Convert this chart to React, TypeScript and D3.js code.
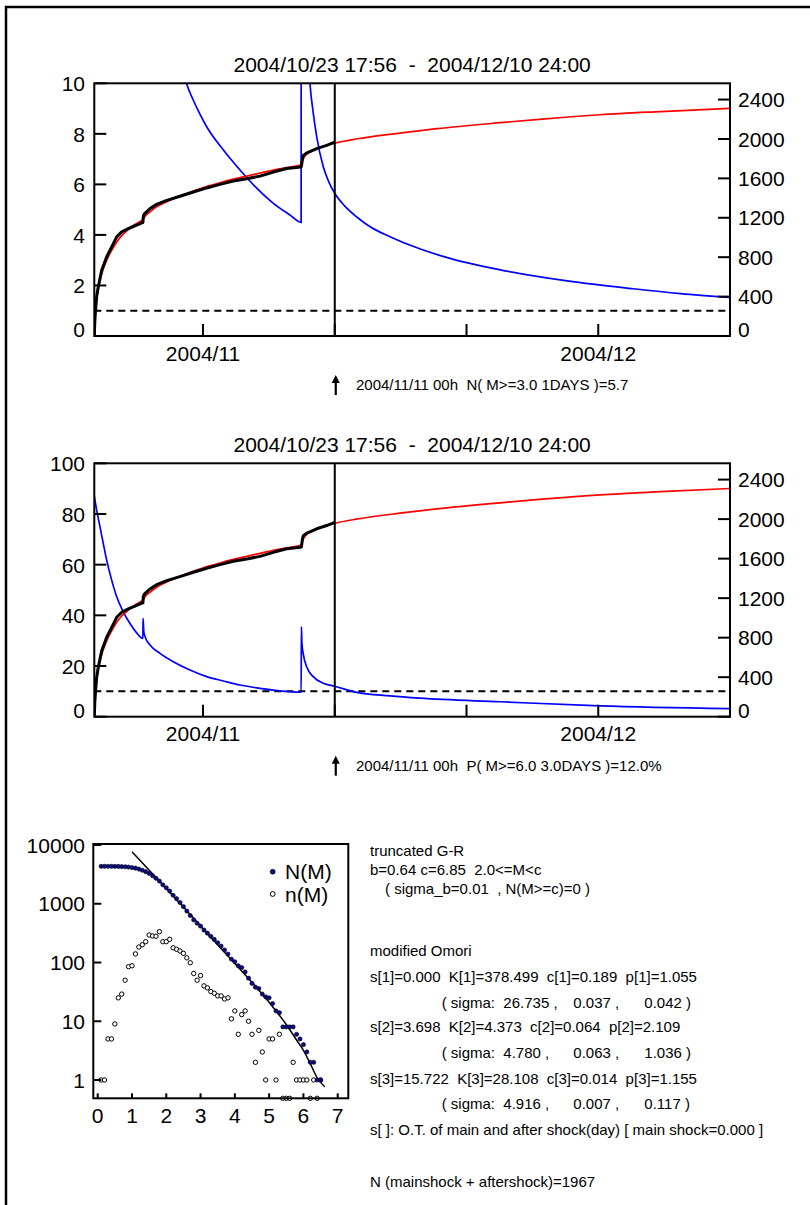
import React from 'react';
import * as d3 from 'd3';

// ---------- time axis ----------
const START = Date.UTC(2004, 9, 23, 17, 56);
const END = Date.UTC(2004, 11, 11, 0, 0);
const DAY = 86400000;
const xTickDates = ['2004-11-01', '2004-11-11', '2004-11-21', '2004-12-01'];
const xLabelDates = ['2004-11-01', '2004-12-01'];
const forecastDate = '2004-11-11';
const titleText = '2004/10/23 17:56  -  2004/12/10 24:00';

// ---------- axes ticks ----------
const countTicks = [0, 400, 800, 1200, 1600, 2000, 2400];
const rateTicks = [0, 2, 4, 6, 8, 10];
const probTicks = [0, 20, 40, 60, 80, 100];

// ---------- observed cumulative count (days since main shock, count) ----------
const observedDays = [0, 0.04, 0.08, 0.18, 0.3, 0.56, 0.94, 1.32, 1.7, 2.08, 2.58, 3.09, 3.6, 3.69, 3.72, 3.8, 4.23, 4.73, 5.5, 6.5, 7.52, 8.53, 9.54, 10.55, 11.57, 12.58, 13.59, 14.6, 15.67, 15.72, 15.8, 15.87, 16.1, 16.88, 17.64, 18.25];
const observedCounts = [0, 150, 230, 400, 500, 668, 804, 904, 1006, 1057, 1091, 1119, 1149, 1152, 1215, 1240, 1293, 1336, 1377, 1418, 1462, 1503, 1539, 1574, 1597, 1623, 1664, 1700, 1715, 1720, 1800, 1833, 1856, 1902, 1935, 1967];

// ---------- fitted cumulative count ----------
const fittedDays = [0, 0.05, 0.18, 0.3, 0.56, 0.94, 1.32, 1.7, 2.08, 2.58, 3.09, 3.6, 3.72, 3.85, 4.23, 4.73, 5.5, 6.5, 7.52, 8.53, 9.54, 10.55, 11.57, 12.58, 13.59, 14.6, 15.72, 15.8, 15.87, 16.1, 16.5, 16.88, 17.64, 18.25, 20, 23.2, 26, 30.8, 34, 38.4, 43, 48.25];
const fittedCounts = [0, 200, 384, 474, 627, 768, 870, 955, 1019, 1080, 1132, 1172, 1185, 1215, 1260, 1311, 1364, 1421, 1472, 1518, 1556, 1592, 1623, 1654, 1684, 1710, 1737, 1775, 1800, 1843, 1878, 1900, 1935, 1958, 2002, 2060, 2104, 2165, 2202, 2246, 2278, 2310];

// ---------- expected N(M>=3.0, 1 day) ----------
const rateDays = [6.0, 6.5, 7.0, 7.5, 8.0, 8.53, 9.8, 11.06, 12.33, 13.59, 14.85, 15.7, 15.71, 16.0, 16.37, 16.6, 16.88, 17.38, 17.8, 18.25, 19.0, 19.9, 21, 22.44, 24.7, 27.0, 30.8, 35.9, 40.9, 44.5, 48.25];
const rateValues = [12.6, 11.2, 10.0, 9.35, 8.8, 8.28, 7.36, 6.57, 5.85, 5.25, 4.79, 4.5, 40, 14.5, 10.0, 8.9, 7.89, 6.7, 6.1, 5.65, 5.15, 4.72, 4.3, 3.93, 3.45, 3.07, 2.62, 2.18, 1.87, 1.68, 1.53];
const rateThreshold = 1;

// ---------- probability P(M>=6.0, 3 days) % ----------
const probDays = [0, 0.18, 0.43, 0.68, 0.94, 1.32, 1.7, 2.2, 2.71, 3.22, 3.69, 3.7, 3.76, 3.85, 4.23, 4.99, 6.0, 7.26, 8.53, 9.8, 11.06, 12.33, 13.59, 15.7, 15.72, 15.76, 15.87, 16.12, 16.62, 17.38, 18.25, 19.9, 22.44, 24.7, 30.8, 38.4, 48.25];
const probValues = [87, 81.5, 75, 68.4, 61.8, 53.9, 47.3, 41.4, 36.8, 33.1, 30.9, 38.8, 33.5, 31.6, 28.3, 25, 21.7, 18.4, 15.8, 14.1, 12.5, 11.4, 10.5, 9.7, 35.5, 29, 24.5, 19.7, 15.8, 13.2, 12.0, 9.6, 8.2, 7.3, 5.9, 4.3, 3.2];
const probThreshold = 10;

// ---------- magnitude frequency ----------
const magnitudes = [0.1, 0.2, 0.3, 0.4, 0.5, 0.6, 0.7, 0.8, 0.9, 1.0, 1.1, 1.2, 1.3, 1.4, 1.5, 1.6, 1.7, 1.8, 1.9, 2.0, 2.1, 2.2, 2.3, 2.4, 2.5, 2.6, 2.7, 2.8, 2.9, 3.0, 3.1, 3.2, 3.3, 3.4, 3.5, 3.6, 3.7, 3.8, 3.9, 4.0, 4.1, 4.2, 4.3, 4.4, 4.5, 4.6, 4.7, 4.8, 4.9, 5.0, 5.1, 5.2, 5.3, 5.4, 5.5, 5.6, 5.7, 5.8, 5.9, 6.0, 6.1, 6.2, 6.3, 6.4, 6.5];
const cumulativeN = [4335, 4334, 4333, 4328, 4323, 4314, 4289, 4260, 4210, 4125, 4037, 3897, 3714, 3514, 3288, 2994, 2711, 2431, 2096, 1870, 1644, 1396, 1218, 1050, 893, 750, 630, 531, 466, 416, 356, 316, 279, 247, 217, 190, 163, 139, 114, 103, 88, 82, 69, 54, 44, 38, 36, 29, 26, 25, 20, 15, 14, 8, 8, 8, 8, 6, 5, 4, 3, 2, 2, 1, 1];
const binCounts = [1, 1, 5, 5, 9, 25, 29, 50, 85, 88, 140, 183, 200, 226, 294, 283, 280, 335, 226, 226, 248, 178, 168, 157, 143, 120, 99, 65, 50, 60, 40, 37, 32, 30, 27, 27, 24, 25, 11, 15, 6, 13, 15, 10, 6, 2, 7, 3, 1, 5, 5, 1, 6, 0, 0, 0, 2, 1, 1, 1, 1, 0, 1, 0, 1];
const grFitM = [1.0, 2.0, 3.0, 4.0, 4.5, 5.0, 5.5, 5.8, 6.0, 6.2, 6.4, 6.62];
const grFitN = [7700, 1820, 420, 96, 46, 21, 8.8, 4.8, 3.2, 1.9, 1.1, 0.77];
const magTicks = [0, 1, 2, 3, 4, 5, 6, 7];
const freqTicks = [1, 10, 100, 1000, 10000];

// ---------- text block ----------
const grLines = ['truncated G-R', 'b=0.64 c=6.85  2.0<=M<c'];
const grSigmaLine = '( sigma_b=0.01  , N(M>=c)=0 )';
const omoriTitle = 'modified Omori';
const omoriParams = [
  's[1]=0.000  K[1]=378.499  c[1]=0.189  p[1]=1.055',
  's[2]=3.698  K[2]=4.373  c[2]=0.064  p[2]=2.109',
  's[3]=15.722  K[3]=28.108  c[3]=0.014  p[3]=1.155',
];
const omoriSigmas = [
  ['( sigma:  26.735 ,', '0.037 ,', '0.042 )'],
  ['( sigma:  4.780 ,', '0.063 ,', '1.036 )'],
  ['( sigma:  4.916 ,', '0.007 ,', '0.117 )'],
];
const noteLine = 's[ ]: O.T. of main and after shock(day) [ main shock=0.000 ]';
const totalLine = 'N (mainshock + aftershock)=1967';

const FONT = 'Liberation Sans, Arial, Helvetica, sans-serif';

type PanelProps = {
  id: string;
  top: number;
  bottom: number;
  leftMax: number;
  leftTicks: number[];
  blueDays: number[];
  blueValues: number[];
  threshold: number;
  note: string;
};

const LEFT = 94.3;
const RIGHT = 730;

function Panel({ id, top, bottom, leftMax, leftTicks, blueDays, blueValues, threshold, note }: PanelProps) {
  const x = d3.scaleUtc().domain([new Date(START), new Date(END)]).range([LEFT, RIGHT]);
  const xd = (d: number) => x(new Date(START + d * DAY));
  const yL = d3.scaleLinear().domain([0, leftMax]).range([bottom, top]);
  const yR = d3.scaleLinear().domain([0, 2565]).range([bottom, top]);

  const lineCount = d3.line<[number, number]>().x((p) => xd(p[0])).y((p) => yR(p[1])).curve(d3.curveMonotoneX);
  const lineLeft = d3.line<[number, number]>().x((p) => xd(p[0])).y((p) => yL(p[1])).curve(d3.curveMonotoneX);
  const lineObs = d3.line<[number, number]>().x((p) => xd(p[0])).y((p) => yR(p[1]));

  const obs = observedDays.map((d, i) => [d, observedCounts[i]] as [number, number]);
  const fit = fittedDays.map((d, i) => [d, fittedCounts[i]] as [number, number]);
  const blue = blueDays.map((d, i) => [d, blueValues[i]] as [number, number]);
  const fx = x(new Date(forecastDate + 'T00:00:00Z'));
  const fmt = d3.utcFormat('%Y/%m');

  return (
    <g>
      <defs>
        <clipPath id={id}>
          <rect x={LEFT} y={top} width={RIGHT - LEFT} height={bottom - top} />
        </clipPath>
      </defs>
      <text x={(LEFT + RIGHT) / 2} y={top - 11.6} fontSize={21} textAnchor="middle" fontFamily={FONT} style={{ whiteSpace: 'pre' }}>
        {titleText}
      </text>
      <g clipPath={`url(#${id})`}>
        <line x1={LEFT} x2={RIGHT} y1={yL(threshold)} y2={yL(threshold)} stroke="#000" strokeWidth={2} strokeDasharray="7,5" />
        <path d={lineLeft(blue) || ''} fill="none" stroke="#0000ff" strokeWidth={1.7} />
        <path d={lineCount(fit) || ''} fill="none" stroke="#ff0000" strokeWidth={1.7} />
        <path d={lineObs(obs) || ''} fill="none" stroke="#000" strokeWidth={3} strokeLinejoin="round" />
      </g>
      <line x1={fx} x2={fx} y1={top} y2={bottom} stroke="#000" strokeWidth={2} />
      <rect x={LEFT} y={top} width={RIGHT - LEFT} height={bottom - top} fill="none" stroke="#000" strokeWidth={2} />
      {leftTicks.map((t) => (
        <g key={'l' + t}>
          <line x1={LEFT} x2={LEFT + 12} y1={yL(t)} y2={yL(t)} stroke="#000" strokeWidth={2} />
          <text x={85} y={t === 0 ? yL(t) + 1 : yL(t) + 8} fontSize={21} textAnchor="end" fontFamily={FONT}>{t}</text>
        </g>
      ))}
      {countTicks.map((t) => (
        <g key={'r' + t}>
          <line x1={RIGHT - 12} x2={RIGHT} y1={yR(t)} y2={yR(t)} stroke="#000" strokeWidth={2} />
          <text x={738} y={t === 0 ? yR(t) + 1 : yR(t) + 7.7} fontSize={21} textAnchor="start" fontFamily={FONT}>{t}</text>
        </g>
      ))}
      {xTickDates.map((s) => {
        const tx = x(new Date(s + 'T00:00:00Z'));
        return <line key={s} x1={tx} x2={tx} y1={bottom} y2={bottom - 12} stroke="#000" strokeWidth={2} />;
      })}
      {xLabelDates.map((s) => {
        const dt = new Date(s + 'T00:00:00Z');
        return (
          <text key={s} x={x(dt)} y={bottom + 24.5} fontSize={21} textAnchor="middle" fontFamily={FONT}>{fmt(dt)}</text>
        );
      })}
      <line x1={fx + 1} x2={fx + 1} y1={bottom + 59} y2={bottom + 45} stroke="#000" strokeWidth={2.2} />
      <path d={`M${fx + 1},${bottom + 39} L${fx - 3},${bottom + 47} L${fx + 5},${bottom + 47} Z`} fill="#000" />
      <text x={356} y={bottom + 54.4} fontSize={15} fontFamily={FONT} style={{ whiteSpace: 'pre' }}>{note}</text>
    </g>
  );
}

function MagnitudeChart() {
  const L = 93.3, R = 348.3, T = 844, B = 1098.3;
  const x = d3.scaleLinear().domain([0, 7]).range([97.7, 337.7]);
  const y = d3.scaleLog().domain([1, 10000]).range([1080, 845]);
  const yv = (v: number) => (v <= 0 ? B : y(v));
  const fitLine = d3.line<number>().x((_, i) => x(grFitM[i])).y((v) => y(v)).curve(d3.curveMonotoneX);
  return (
    <g>
      <path d={fitLine(grFitN) || ''} fill="none" stroke="#000" strokeWidth={1.5} />
      {magnitudes.map((m, i) => (
        <circle key={'n' + m} cx={x(m)} cy={yv(binCounts[i])} r={2.2} fill="#fff" stroke="#000" strokeWidth={1} />
      ))}
      {magnitudes.map((m, i) => (
        <circle key={'N' + m} cx={x(m)} cy={yv(cumulativeN[i])} r={2.1} fill="#0a0a8a" stroke="#000" strokeWidth={0.6} />
      ))}
      <rect x={L} y={T} width={R - L} height={B - T} fill="none" stroke="#000" strokeWidth={2} />
      {freqTicks.map((t) => (
        <g key={'y' + t}>
          <line x1={L} x2={L + 8} y1={y(t)} y2={y(t)} stroke="#000" strokeWidth={2} />
          <text x={85} y={y(t) + 7.5} fontSize={21} textAnchor="end" fontFamily={FONT}>{t}</text>
        </g>
      ))}
      {magTicks.map((t) => (
        <g key={'x' + t}>
          <line x1={x(t)} x2={x(t)} y1={B} y2={B - 5} stroke="#000" strokeWidth={2} />
          <text x={x(t)} y={1123} fontSize={21} textAnchor="middle" fontFamily={FONT}>{t}</text>
        </g>
      ))}
      <circle cx={272.7} cy={871.7} r={2.5} fill="#0a0a8a" stroke="#000" strokeWidth={0.6} />
      <text x={285} y={879} fontSize={21} fontFamily={FONT}>N(M)</text>
      <circle cx={272.7} cy={894} r={2.4} fill="#fff" stroke="#000" strokeWidth={1} />
      <text x={285} y={901.5} fontSize={21} fontFamily={FONT}>n(M)</text>
    </g>
  );
}

function TextBlock() {
  const s = { whiteSpace: 'pre' as const };
  const omoriY = [982, 1032, 1083.6];
  const sigmaY = [1008, 1058, 1109.3];
  return (
    <g fontFamily={FONT} fontSize={15} fill="#000">
      <text x={370} y={856} style={s}>{grLines[0]}</text>
      <text x={370} y={874.5} style={s}>{grLines[1]}</text>
      <text x={385} y={893.5} style={s}>{grSigmaLine}</text>
      <text x={370} y={956} style={s}>{omoriTitle}</text>
      {omoriParams.map((p, i) => (
        <text key={p} x={370} y={omoriY[i]} style={s}>{p}</text>
      ))}
      {omoriSigmas.map((row, i) => (
        <g key={'s' + i}>
          <text x={441.7} y={sigmaY[i]} style={s}>{row[0]}</text>
          <text x={573.3} y={sigmaY[i]} style={s}>{row[1]}</text>
          <text x={644.3} y={sigmaY[i]} style={s}>{row[2]}</text>
        </g>
      ))}
      <text x={370} y={1134.6} style={s}>{noteLine}</text>
      <text x={370} y={1187} style={s}>{totalLine}</text>
    </g>
  );
}

export default function App() {
  return (
    <svg width={810} height={1205} style={{ position: 'absolute', left: 0, top: 0, background: '#fff' }}>
      <rect x={0} y={0} width={810} height={1205} fill="#fff" />
      <path d="M6,1205 V7 H810" fill="none" stroke="#000" strokeWidth={2.5} />
      <Panel id="clipA" top={83.3} bottom={336} leftMax={10} leftTicks={rateTicks} blueDays={rateDays} blueValues={rateValues} threshold={rateThreshold} note="2004/11/11 00h  N( M>=3.0 1DAYS )=5.7" />
      <Panel id="clipB" top={463.3} bottom={716.7} leftMax={100} leftTicks={probTicks} blueDays={probDays} blueValues={probValues} threshold={probThreshold} note="2004/11/11 00h  P( M>=6.0 3.0DAYS )=12.0%" />
      <MagnitudeChart />
      <TextBlock />
    </svg>
  );
}
